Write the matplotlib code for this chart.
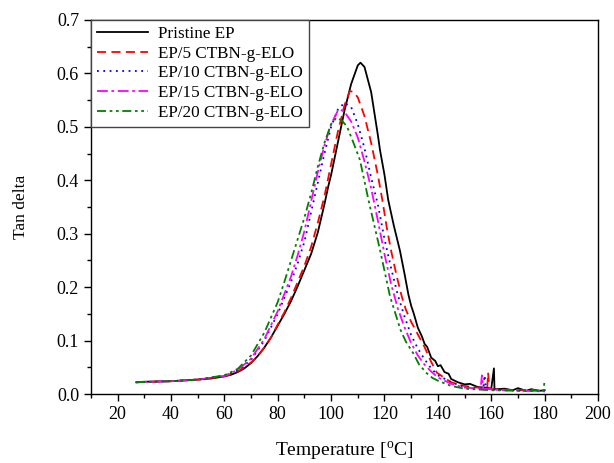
import numpy as np
import matplotlib
matplotlib.use('Agg')
import matplotlib.pyplot as plt
from matplotlib.ticker import MultipleLocator, FormatStrFormatter

plt.rcParams['font.family'] = ['Liberation Serif', 'DejaVu Serif']
plt.rcParams['mathtext.fontset'] = 'custom'
plt.rcParams['mathtext.rm'] = 'Liberation Serif'

# Pristine EP
T0 = [27, 30, 40, 50, 55, 60, 62.5, 65, 67.5, 70, 72.5, 75, 77.5, 80, 82.5, 85, 87.5, 90,
      92.5, 95, 97.5, 99, 100, 102.5, 105, 107.5, 110, 111, 112.5, 115, 117.5, 118.3, 120,
      121.4, 123.5, 125.8, 127.5, 129, 130, 131, 132.5, 134, 135, 136, 137.5, 139, 140,
      141, 142.5, 144, 145, 147.5, 150, 152, 155, 158, 160, 161, 161.2, 162, 165, 168, 170,
      173, 175, 178, 180]
Y0 = [0.022, 0.023, 0.024, 0.027, 0.029, 0.033, 0.036, 0.041, 0.048, 0.058, 0.071, 0.087, 0.106,
      0.128, 0.15, 0.174, 0.202, 0.232, 0.262, 0.302, 0.355, 0.39, 0.41, 0.47, 0.53, 0.58, 0.615,
      0.62, 0.612, 0.565, 0.485, 0.457, 0.41, 0.363, 0.315, 0.268, 0.225, 0.185, 0.165, 0.15,
      0.124, 0.108, 0.094, 0.088, 0.068, 0.062, 0.052, 0.054, 0.041, 0.038, 0.028, 0.022, 0.018,
      0.019, 0.013, 0.012, 0.01, 0.048, 0.01, 0.009, 0.01, 0.007, 0.011, 0.006, 0.009, 0.006,
      0.007]

# EP/5 CTBN-g-ELO
T5 = [27, 40, 50, 60, 65, 70, 72.5, 75, 77.5, 80, 82.5, 85, 87.5, 90, 92.5, 95, 97.5, 100,
      102.5, 105, 107, 108.5, 110, 112.5, 115, 117.5, 119.2, 120.8, 122.4, 124.6, 126.5, 128,
      130, 133.3, 135, 137.5, 139.6, 142.5, 145, 150, 155, 158.5, 158.8, 159.3, 160, 165, 170,
      175, 180]
Y5 = [0.022, 0.024, 0.027, 0.033, 0.042, 0.059, 0.071, 0.087, 0.106, 0.13, 0.153, 0.18, 0.21,
      0.24, 0.275, 0.32, 0.37, 0.43, 0.49, 0.54, 0.567, 0.565, 0.555, 0.52, 0.47, 0.41, 0.363,
      0.313, 0.27, 0.22, 0.182, 0.158, 0.135, 0.104, 0.088, 0.06, 0.04, 0.03, 0.022, 0.015,
      0.012, 0.01, 0.04, 0.01, 0.009, 0.008, 0.007, 0.008, 0.005]

# EP/10 CTBN-g-ELO
T10 = [27, 40, 50, 60, 65, 70, 75, 80, 85, 87.5, 90, 92.5, 95, 97.5, 100, 102.5, 105, 107.5,
       110, 112.5, 115, 117.5, 120, 122.5, 125, 127.5, 130, 132.5, 135, 137.5, 140, 145, 150,
       157, 157.5, 158, 165, 180]
Y10 = [0.022, 0.024, 0.027, 0.034, 0.044, 0.064, 0.1, 0.15, 0.21, 0.245, 0.285, 0.34, 0.395,
       0.45, 0.5, 0.532, 0.545, 0.537, 0.505, 0.46, 0.405, 0.355, 0.29, 0.235, 0.185, 0.145,
       0.11, 0.085, 0.065, 0.048, 0.035, 0.022, 0.013, 0.01, 0.035, 0.01, 0.007, 0.005]

# EP/15 CTBN-g-ELO
T15 = [27, 40, 50, 60, 65, 70, 75, 80, 85, 87.5, 90, 92.5, 95, 97.5, 100, 102.5, 103.5, 105,
       107.5, 110, 112.5, 115, 117.5, 120, 122.5, 125, 127.5, 130, 132.5, 135, 137.5, 140, 145,
       150, 156, 156.5, 157, 165, 180]
Y15 = [0.022, 0.024, 0.027, 0.034, 0.045, 0.066, 0.103, 0.155, 0.22, 0.26, 0.305, 0.36, 0.415,
       0.465, 0.505, 0.53, 0.532, 0.528, 0.51, 0.48, 0.435, 0.385, 0.325, 0.262, 0.205, 0.16,
       0.125, 0.095, 0.072, 0.055, 0.042, 0.031, 0.019, 0.012, 0.01, 0.035, 0.01, 0.007, 0.005]

# EP/20 CTBN-g-ELO
T20 = [27, 40, 50, 60, 65, 70, 75, 80, 82.5, 85, 87.5, 90, 92.5, 95, 97.5, 100, 102, 104, 106,
       108, 110.8, 114, 118.3, 122.1, 123.3, 126, 128, 130.8, 133, 135.8, 138, 140, 145, 150,
       160, 179.5, 180]
Y20 = [0.022, 0.024, 0.027, 0.035, 0.047, 0.072, 0.115, 0.172, 0.21, 0.25, 0.29, 0.33, 0.375,
       0.425, 0.47, 0.505, 0.517, 0.512, 0.5, 0.475, 0.438, 0.363, 0.27, 0.182, 0.163,
       0.12, 0.098, 0.076, 0.055, 0.039, 0.03, 0.025, 0.015, 0.01, 0.007, 0.006, 0.025]

series = [
    (T0, Y0, 'Pristine EP', 'black', '-'),
    (T5, Y5, 'EP/5 CTBN-g-ELO', 'red', (0, (5, 3))),
    (T10, Y10, 'EP/10 CTBN-g-ELO', 'blue', (0, (1, 2.5))),
    (T15, Y15, 'EP/15 CTBN-g-ELO', 'magenta', (0, (6, 2, 1.5, 2))),
    (T20, Y20, 'EP/20 CTBN-g-ELO', 'green', (0, (5, 2, 1.5, 2, 1.5, 2))),
]

fig = plt.figure(figsize=(6.14, 4.63), dpi=100)
ax = fig.add_axes([0.148, 0.149, 0.826, 0.808])

for T, Y, lab, col, ls in series:
    ax.plot(T, Y, color=col, linestyle=ls, linewidth=1.3, label=lab)

ax.set_xlim(10, 200)
ax.set_ylim(0, 0.7)
ax.xaxis.set_major_locator(MultipleLocator(20))
ax.xaxis.set_minor_locator(MultipleLocator(10))
ax.yaxis.set_major_locator(MultipleLocator(0.1))
ax.yaxis.set_minor_locator(MultipleLocator(0.05))
ax.yaxis.set_major_formatter(FormatStrFormatter('%.1f'))
ax.tick_params(which='major', direction='out', length=5, width=1, labelsize=13)
ax.tick_params(which='minor', direction='out', length=3, width=1)
for s in ax.spines.values():
    s.set_linewidth(1)

ax.set_xlabel('Temperature [$^{\\rm o}$C]', fontsize=14, labelpad=12)
ax.set_ylabel('Tan delta', fontsize=12.5, labelpad=20)

leg = ax.legend(loc='upper left', borderaxespad=0, fontsize=12.3, fancybox=False,
                framealpha=1, edgecolor='#444444', handlelength=3.0, labelspacing=0.22,
                borderpad=0.35, handletextpad=0.6)
leg.get_frame().set_linewidth(1)

fig.savefig('out.png', dpi=100)
